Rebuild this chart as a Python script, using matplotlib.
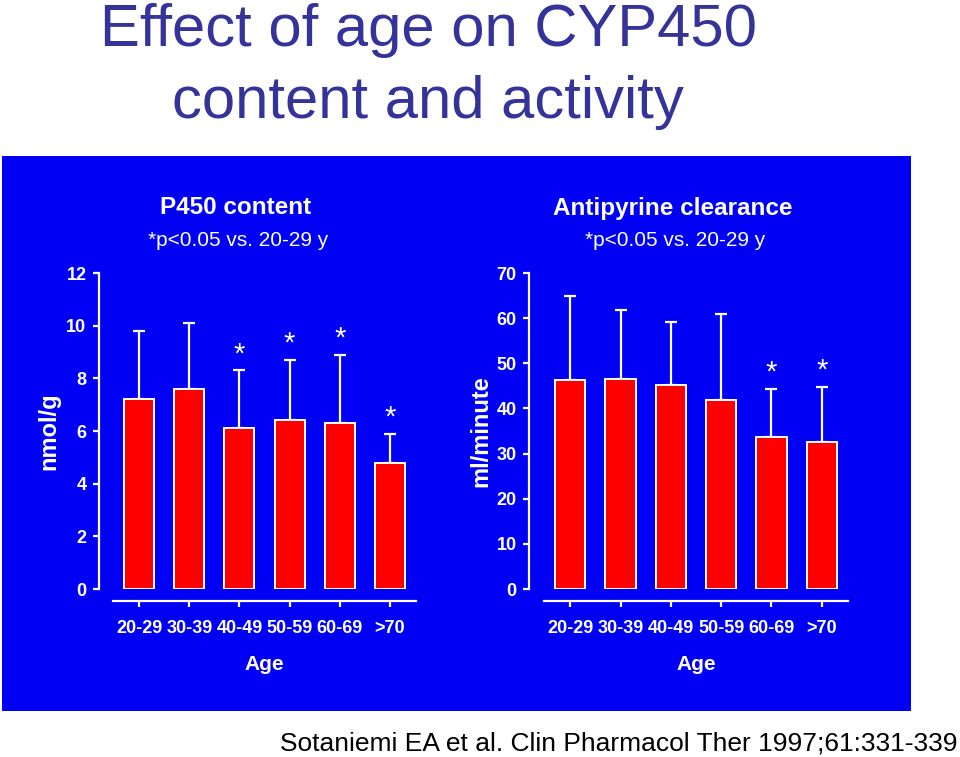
import numpy as np
import matplotlib
matplotlib.use("Agg")
import matplotlib.pyplot as plt
from matplotlib.patches import Rectangle

plt.rcParams['font.family'] = ['Liberation Sans', 'DejaVu Sans']
plt.rcParams['font.weight'] = 'bold'

# data
ages = ['20-29', '30-39', '40-49', '50-59', '60-69', '>70']
p450_mean = [7.2, 7.6, 6.1, 6.4, 6.3, 4.8]
p450_top = [9.8, 10.1, 8.3, 8.7, 8.9, 5.9]
p450_sig = [False, False, True, True, True, True]
apc_mean = [46.3, 46.5, 45.1, 41.9, 33.6, 32.6]
apc_top = [64.8, 61.8, 59.2, 61.0, 44.3, 44.7]
apc_sig = [False, False, False, False, True, True]

W, H = 960, 757
BLUE = '#0000F5'
NAVY = '#333399'


def fx(px):
    return px / W


def fy(py):
    return 1 - py / H


def panel(ax, means, tops, sig, ymax, ystep, ylabel, left_out, ypad):
    x = np.arange(len(ages))
    means = np.array(means)
    err = np.array(tops) - means
    ax.errorbar(x, means, yerr=[np.zeros_like(err), err], fmt='none',
                ecolor='white', elinewidth=1.6, capsize=4, capthick=1.6, zorder=1)
    ax.bar(x, means, width=0.6, color='#FF0000', edgecolor='white',
           linewidth=1.4, zorder=2)
    for xi, t, s in zip(x, tops, sig):
        if s:
            ax.annotate('*', (xi, t), xytext=(0, 6), textcoords='offset points',
                        ha='center', va='baseline', color='white',
                        fontsize=21, fontweight='normal')
    ax.set_facecolor('none')
    ax.set_xlim(-0.52, 5.52)
    ax.set_ylim(0, ymax)
    ax.set_yticks(np.arange(0, ymax + 1, ystep))
    ax.set_xticks(x)
    ax.set_xticklabels(ages)
    for s in ['top', 'right']:
        ax.spines[s].set_visible(False)
    # outward offsets are in points (0.72 pt per px at 100 dpi)
    ax.spines['left'].set_position(('outward', left_out))
    ax.spines['bottom'].set_position(('outward', 8.6))
    for s in ['left', 'bottom']:
        ax.spines[s].set_color('white')
        ax.spines[s].set_linewidth(1.6)
    ax.tick_params(colors='white', width=1.6, length=4, labelsize=13)
    ax.tick_params(axis='y', pad=5)
    ax.tick_params(axis='x', pad=9.5)
    ax.set_xlabel('Age', color='white', fontsize=15, fontweight='bold', labelpad=13)
    ax.set_ylabel(ylabel, color='white', fontsize=17, fontweight='bold', labelpad=ypad)


fig = plt.figure(figsize=(W / 100, H / 100), dpi=100)

fig.patches.append(Rectangle((fx(2), fy(711)), fx(911) - fx(2), fy(156) - fy(711),
                             transform=fig.transFigure, facecolor=BLUE,
                             edgecolor='none', zorder=-1))

fig.text(fx(428), fy(46), 'Effect of age on CYP450', ha='center', va='baseline',
         color=NAVY, fontsize=43, fontweight='normal')
fig.text(fx(428), fy(118), 'content and activity', ha='center', va='baseline',
         color=NAVY, fontsize=43, fontweight='normal')

ax1 = fig.add_axes([fx(113), fy(589), fx(416) - fx(113), fy(273) - fy(589)])
panel(ax1, p450_mean, p450_top, p450_sig, 12, 2, 'nmol/g', 10.1, 4)

ax2 = fig.add_axes([fx(544), fy(589), fx(848) - fx(544), fy(273) - fy(589)])
panel(ax2, apc_mean, apc_top, apc_sig, 70, 10, 'ml/minute', 10.8, 3)

for cx, name in [(236, 'P450 content'), (673, 'Antipyrine clearance')]:
    fig.text(fx(cx), fy(208), name, ha='center', va='center', color='white',
             fontsize=17.5)
    fig.text(fx(cx + 2), fy(240), '*p<0.05 vs. 20-29 y', ha='center', va='center',
             color='white', fontsize=15, fontweight='normal')

fig.text(fx(957), fy(751), 'Sotaniemi EA et al. Clin Pharmacol Ther 1997;61:331-339',
         ha='right', va='baseline', color='black', fontsize=19, fontweight='normal')

fig.savefig('out.png', dpi=100)
